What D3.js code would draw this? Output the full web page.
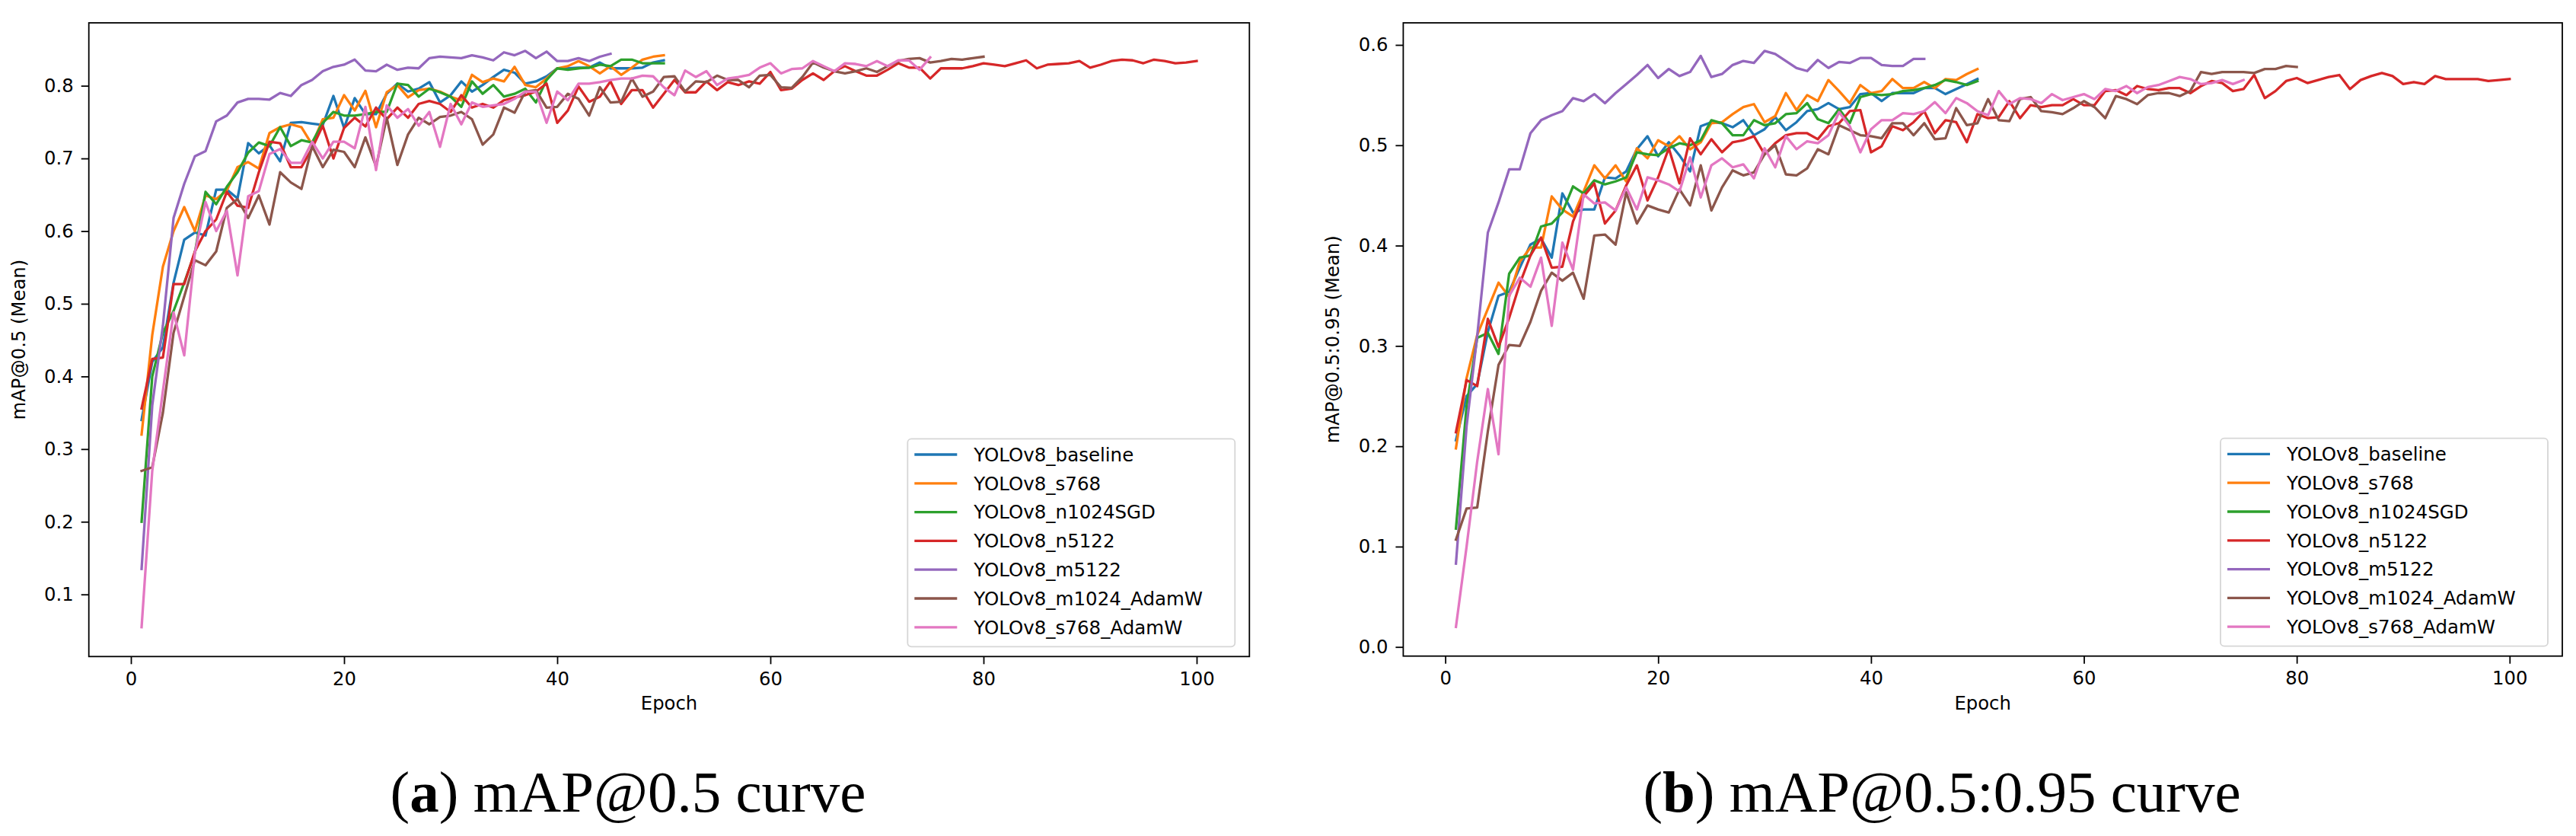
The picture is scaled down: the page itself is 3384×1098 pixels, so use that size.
<!DOCTYPE html>
<html>
<head>
<meta charset="utf-8">
<script src="https://cdn.jsdelivr.net/npm/d3@7/dist/d3.min.js"></script>
<style>
body { margin: 0; background: #fff; }
svg text { font-family: "DejaVu Sans", sans-serif; fill: #000; }
</style>
</head>
<body>
<script>
const width = 3384;
const height = 1098;

// series names, in legend / drawing order
const seriesNames = ["YOLOv8_baseline", "YOLOv8_s768", "YOLOv8_n1024SGD", "YOLOv8_n5122",
    "YOLOv8_m5122", "YOLOv8_m1024_AdamW", "YOLOv8_s768_AdamW"];

// mAP@0.5, one value per epoch starting at epoch 1
const map50Baseline = [0.34,0.42,0.44,0.529,0.588,0.598,0.594,0.657,0.657,0.645,0.721,0.707,0.718,0.696,0.749,0.750,0.748,0.746,0.786,0.742,
    0.783,0.761,0.761,0.789,0.803,0.792,0.796,0.805,0.777,0.787,0.806,0.792,0.801,0.812,0.822,0.818,0.803,0.806,0.813,0.824,
    0.824,0.825,0.825,0.832,0.824,0.824,0.824,0.825,0.832,0.835];
const map50S768 = [0.32,0.457,0.551,0.600,0.633,0.600,0.649,0.644,0.656,0.688,0.695,0.686,0.735,0.743,0.747,0.743,0.719,0.754,0.756,0.787,
    0.766,0.793,0.743,0.791,0.801,0.784,0.794,0.796,0.792,0.785,0.780,0.815,0.805,0.810,0.806,0.826,0.801,0.798,0.810,0.824,
    0.827,0.834,0.827,0.817,0.827,0.815,0.825,0.836,0.840,0.842];
const map50N1024SGD = [0.20,0.40,0.46,0.49,0.529,0.57,0.654,0.637,0.661,0.681,0.708,0.722,0.717,0.743,0.717,0.725,0.722,0.749,0.764,0.759,
    0.759,0.761,0.764,0.764,0.803,0.801,0.785,0.796,0.791,0.785,0.771,0.806,0.789,0.801,0.785,0.789,0.796,0.777,0.808,0.824,
    0.822,0.824,0.825,0.829,0.827,0.836,0.836,0.831,0.831,0.831];
const map50N5122 = [0.356,0.424,0.426,0.527,0.527,0.572,0.600,0.616,0.654,0.635,0.632,0.681,0.723,0.721,0.688,0.688,0.714,0.745,0.700,0.742,
    0.756,0.744,0.770,0.754,0.770,0.756,0.775,0.779,0.775,0.764,0.787,0.770,0.775,0.770,0.780,0.784,0.787,0.792,0.803,0.749,
    0.766,0.799,0.778,0.785,0.806,0.775,0.794,0.794,0.770,0.789,0.808,0.791,0.791,0.806,0.794,0.805,0.801,0.806,0.803,0.819,
    0.794,0.796,0.808,0.817,0.808,0.820,0.827,0.820,0.814,0.814,0.822,0.831,0.825,0.825,0.810,0.824,0.824,0.824,0.827,0.831,
    0.829,0.827,0.831,0.835,0.824,0.829,0.830,0.831,0.834,0.825,0.829,0.834,0.836,0.835,0.831,0.836,0.834,0.831,0.832,0.834];
const map50M5122 = [0.135,0.36,0.47,0.618,0.665,0.703,0.710,0.751,0.759,0.777,0.782,0.782,0.781,0.790,0.786,0.801,0.808,0.820,0.826,0.829,
    0.836,0.821,0.820,0.829,0.822,0.825,0.824,0.838,0.840,0.839,0.838,0.842,0.839,0.835,0.846,0.842,0.848,0.838,0.847,0.834,
    0.834,0.838,0.834,0.840,0.844];
const map50M1024AdamW = [0.27,0.275,0.35,0.46,0.51,0.560,0.553,0.572,0.632,0.644,0.618,0.649,0.609,0.681,0.667,0.658,0.717,0.688,0.712,0.709,
    0.688,0.729,0.689,0.756,0.691,0.733,0.756,0.747,0.757,0.759,0.764,0.754,0.719,0.733,0.770,0.763,0.792,0.794,0.770,0.771,
    0.789,0.782,0.759,0.798,0.777,0.778,0.810,0.785,0.792,0.812,0.813,0.792,0.806,0.805,0.814,0.808,0.808,0.798,0.814,0.815,
    0.798,0.797,0.812,0.832,0.825,0.820,0.817,0.820,0.824,0.819,0.827,0.834,0.837,0.838,0.832,0.834,0.837,0.836,0.838,0.840];
const map50S768AdamW = [0.055,0.27,0.38,0.488,0.429,0.57,0.64,0.60,0.628,0.539,0.648,0.655,0.706,0.713,0.694,0.694,0.723,0.70,0.723,0.723,
    0.714,0.771,0.684,0.773,0.756,0.768,0.745,0.764,0.716,0.775,0.747,0.777,0.771,0.773,0.775,0.782,0.792,0.792,0.749,0.792,
    0.780,0.803,0.803,0.805,0.808,0.810,0.810,0.814,0.813,0.798,0.787,0.821,0.812,0.820,0.801,0.810,0.812,0.815,0.825,0.831,
    0.817,0.823,0.824,0.834,0.827,0.820,0.831,0.830,0.827,0.834,0.827,0.835,0.835,0.822,0.839];

// mAP@0.5:0.95
const map5095Baseline = [0.206,0.250,0.262,0.314,0.350,0.354,0.378,0.401,0.407,0.388,0.452,0.433,0.436,0.436,0.468,0.467,0.474,0.496,0.509,0.489,
    0.503,0.490,0.474,0.519,0.523,0.522,0.518,0.525,0.510,0.516,0.528,0.515,0.523,0.534,0.536,0.542,0.536,0.538,0.551,0.552,
    0.544,0.552,0.552,0.552,0.557,0.557,0.551,0.556,0.561,0.566];
const map5095S768 = [0.198,0.268,0.311,0.337,0.363,0.349,0.384,0.398,0.398,0.449,0.436,0.429,0.454,0.480,0.467,0.480,0.464,0.497,0.487,0.505,
    0.499,0.509,0.496,0.503,0.522,0.523,0.531,0.538,0.541,0.523,0.529,0.552,0.535,0.550,0.544,0.565,0.554,0.542,0.560,0.552,
    0.554,0.566,0.557,0.557,0.563,0.557,0.566,0.565,0.571,0.576];
const map5095N1024SGD = [0.118,0.24,0.308,0.313,0.292,0.372,0.388,0.390,0.419,0.422,0.433,0.459,0.452,0.465,0.461,0.464,0.468,0.493,0.491,0.490,
    0.497,0.502,0.500,0.505,0.525,0.522,0.510,0.510,0.525,0.520,0.522,0.531,0.532,0.542,0.526,0.522,0.536,0.522,0.548,0.551,
    0.550,0.551,0.554,0.555,0.557,0.560,0.565,0.563,0.560,0.564];
const map5095N5122 = [0.214,0.266,0.260,0.327,0.299,0.328,0.362,0.390,0.408,0.378,0.379,0.424,0.449,0.462,0.422,0.435,0.460,0.480,0.445,0.468,
    0.497,0.462,0.507,0.491,0.506,0.493,0.503,0.505,0.509,0.491,0.502,0.510,0.512,0.512,0.506,0.519,0.522,0.534,0.535,0.493,
    0.499,0.519,0.515,0.523,0.534,0.512,0.525,0.523,0.503,0.531,0.527,0.528,0.544,0.527,0.540,0.538,0.540,0.540,0.546,0.540,
    0.540,0.554,0.555,0.550,0.559,0.556,0.555,0.557,0.557,0.552,0.559,0.564,0.562,0.554,0.556,0.570,0.547,0.554,0.564,0.567,
    0.562,0.565,0.568,0.570,0.556,0.565,0.569,0.572,0.569,0.561,0.563,0.561,0.569,0.566,0.566,0.566,0.566,0.564,0.565,0.566];
const map5095M5122 = [0.083,0.22,0.31,0.413,0.443,0.476,0.476,0.512,0.525,0.530,0.534,0.547,0.544,0.551,0.542,0.552,0.561,0.570,0.580,0.567,
    0.576,0.569,0.573,0.589,0.568,0.571,0.580,0.584,0.582,0.594,0.591,0.584,0.577,0.574,0.585,0.577,0.583,0.582,0.587,0.587,
    0.580,0.579,0.579,0.586,0.586];
const map5095M1024AdamW = [0.107,0.138,0.139,0.215,0.281,0.301,0.300,0.324,0.355,0.373,0.365,0.373,0.347,0.410,0.411,0.401,0.453,0.422,0.440,0.436,
    0.433,0.456,0.440,0.480,0.435,0.458,0.475,0.470,0.473,0.491,0.500,0.471,0.470,0.477,0.496,0.491,0.520,0.515,0.510,0.509,
    0.507,0.522,0.522,0.510,0.522,0.506,0.507,0.537,0.520,0.522,0.546,0.525,0.524,0.546,0.548,0.534,0.533,0.531,0.537,0.544,
    0.538,0.527,0.549,0.546,0.541,0.550,0.552,0.552,0.549,0.554,0.573,0.571,0.573,0.573,0.573,0.572,0.576,0.576,0.579,0.578];
const map5095S768AdamW = [0.020,0.10,0.185,0.257,0.192,0.350,0.368,0.359,0.388,0.320,0.403,0.376,0.451,0.442,0.443,0.435,0.458,0.436,0.468,0.465,
    0.461,0.454,0.488,0.448,0.480,0.487,0.478,0.481,0.467,0.497,0.478,0.509,0.496,0.504,0.502,0.510,0.533,0.519,0.493,0.516,
    0.525,0.525,0.532,0.531,0.534,0.543,0.532,0.547,0.542,0.534,0.530,0.554,0.541,0.547,0.546,0.542,0.551,0.545,0.548,0.551,
    0.546,0.556,0.554,0.559,0.552,0.558,0.560,0.564,0.568,0.566,0.561,0.562,0.565,0.561,0.565];

const xTicks = [0, 20, 40, 60, 80, 100];
const yTicksA = [0.1, 0.2, 0.3, 0.4, 0.5, 0.6, 0.7, 0.8];
const yTicksB = [0.0, 0.1, 0.2, 0.3, 0.4, 0.5, 0.6];

const colors = ["#1f77b4", "#ff7f0e", "#2ca02c", "#d62728", "#9467bd", "#8c564b", "#e377c2"];

let svg = d3.select("body").append("svg")
    .attr("width", width)
    .attr("height", height);

function drawPanel(p) {
    let x = d3.scaleLinear().domain([-3.95, 104.95]).range([p.left, p.right]);
    let y = d3.scaleLinear().domain(p.yDomain).range([p.bottom, p.top]);

    let g = svg.append("g");

    let line = d3.line()
        .x((d, i) => x(i + 1))
        .y(d => y(d));

    g.selectAll(".series")
        .data(p.series)
        .enter()
        .append("path")
        .attr("class", "series")
        .attr("d", d => line(d))
        .attr("fill", "none")
        .attr("stroke", (d, i) => colors[i])
        .attr("stroke-width", 3.3)
        .attr("stroke-linejoin", "round")
        .attr("stroke-linecap", "square");

    // axes
    let xAxis = g.append("g")
        .attr("transform", `translate(0,${p.bottom})`)
        .call(d3.axisBottom(x).tickValues(xTicks).tickSize(10).tickPadding(10).tickSizeOuter(0));
    let yAxis = g.append("g")
        .attr("transform", `translate(${p.left},0)`)
        .call(d3.axisLeft(y).tickValues(p.yTicks).tickFormat(d3.format(".1f")).tickSize(10).tickPadding(10).tickSizeOuter(0));
    [xAxis, yAxis].forEach(a => {
        a.select(".domain").remove();
        a.selectAll(".tick line").attr("stroke", "#000").attr("stroke-width", 1.8);
        a.selectAll(".tick text").style("font-size", "24.3px").attr("fill", "#000");
    });

    g.append("rect")
        .attr("x", p.left)
        .attr("y", p.top)
        .attr("width", p.right - p.left)
        .attr("height", p.bottom - p.top)
        .attr("fill", "none")
        .attr("stroke", "#000")
        .attr("stroke-width", 1.8);

    g.append("text")
        .attr("x", (p.left + p.right) / 2)
        .attr("y", p.bottom + 70)
        .attr("text-anchor", "middle")
        .style("font-size", "24.3px")
        .text("Epoch");

    g.append("text")
        .attr("text-anchor", "middle")
        .style("font-size", "24.3px")
        .attr("transform", `translate(${p.left - p.yLabelOffset},${(p.top + p.bottom) / 2}) rotate(-90)`)
        .text(p.yLabel);

    // legend
    let lw = 430, lh = 273;
    let lx = p.right - 19 - lw, ly = p.bottom - 13 - lh;
    let legend = g.append("g").attr("transform", `translate(${lx},${ly})`);
    legend.append("rect")
        .attr("width", lw)
        .attr("height", lh)
        .attr("rx", 5)
        .attr("fill", "#fff")
        .attr("fill-opacity", 0.8)
        .attr("stroke", "#d6d6d6")
        .attr("stroke-width", 1.8);
    let rows = legend.selectAll(".row")
        .data(seriesNames)
        .enter()
        .append("g")
        .attr("transform", (d, i) => `translate(0,${20.7 + i * 37.8})`);
    rows.append("line")
        .attr("x1", 9).attr("x2", 65)
        .attr("stroke", (d, i) => colors[i])
        .attr("stroke-width", 3.3);
    rows.append("text")
        .attr("x", 87)
        .attr("dy", "0.36em")
        .style("font-size", "24.5px")
        .text(d => d);

    // caption
    let cap = svg.append("text")
        .attr("x", p.captionX)
        .attr("y", 1066)
        .attr("text-anchor", "middle")
        .style("font-family", "'Liberation Serif', serif")
        .style("font-size", "77px");
    cap.append("tspan").text("(");
    cap.append("tspan").style("font-weight", "bold").text(p.captionLetter);
    cap.append("tspan").text(") " + p.caption);
}

drawPanel({
    left: 116.7, right: 1641.3, top: 30, bottom: 862.3,
    yDomain: [0.0145, 0.8866],
    yTicks: yTicksA,
    yLabel: "mAP@0.5 (Mean)",
    yLabelOffset: 84,
    series: [map50Baseline, map50S768, map50N1024SGD, map50N5122, map50M5122, map50M1024AdamW, map50S768AdamW],
    captionX: 825, captionLetter: "a", caption: "mAP@0.5 curve"
});

drawPanel({
    left: 1843.4, right: 3366, top: 30, bottom: 861.7,
    yDomain: [-0.0091, 0.622],
    yTicks: yTicksB,
    yLabel: "mAP@0.5:0.95 (Mean)",
    yLabelOffset: 84,
    series: [map5095Baseline, map5095S768, map5095N1024SGD, map5095N5122, map5095M5122, map5095M1024AdamW, map5095S768AdamW],
    captionX: 2551, captionLetter: "b", caption: "mAP@0.5:0.95 curve"
});
</script>
</body>
</html>
